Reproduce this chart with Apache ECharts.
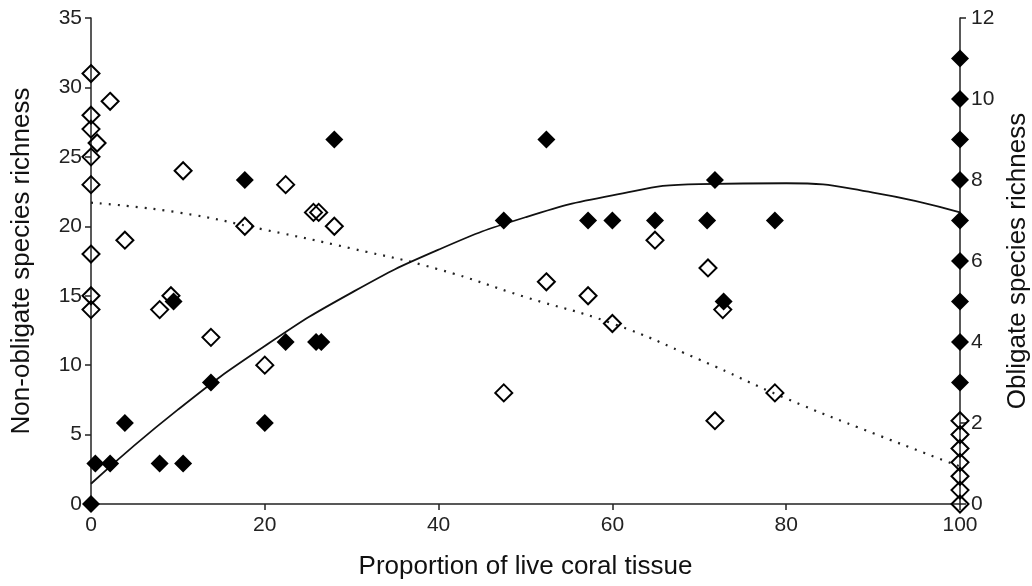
<!DOCTYPE html>
<html>
<head>
<meta charset="utf-8">
<script src="https://cdn.jsdelivr.net/npm/echarts@6/dist/echarts.min.js"></script>
<style>
  html, body { margin: 0; padding: 0; background: #fff; }
  #chart { width: 1032px; height: 586px; }
</style>
</head>
<body>
<div id="chart"></div>
<script>
// 非专性物种（空心菱形，左轴）
const openX = [0, 0, 0, 0, 0, 0, 0, 0, 0.7, 2.2, 3.9, 7.9, 9.2, 10.6, 13.8, 17.7, 20, 22.4, 25.6, 26.2, 28,
  47.5, 52.4, 57.2, 60, 64.9, 71, 71.8, 72.7, 78.7, 100, 100, 100, 100, 100, 100, 100];
const openY = [31, 28, 27, 25, 23, 18, 15, 14, 26, 29, 19, 14, 15, 24, 12, 20, 10, 23, 21, 21, 20,
  8, 16, 15, 13, 19, 17, 6, 14, 8, 6, 5, 4, 3, 2, 1, 0];

// 专性物种（实心菱形，右轴）
const filledX = [0, 0.5, 2.2, 3.9, 7.9, 10.6, 9.5, 13.8, 17.7, 20, 22.4, 25.9, 26.5, 28,
  47.5, 52.4, 57.2, 60, 64.9, 70.9, 71.8, 72.8, 78.7, 100, 100, 100, 100, 100, 100, 100, 100, 100];
const filledY = [0, 1, 1, 2, 1, 1, 5, 3, 8, 2, 4, 4, 4, 9,
  7, 9, 7, 7, 7, 7, 8, 5, 7, 11, 10, 9, 8, 7, 6, 5, 4, 3];

// 拟合曲线
const fitX = [0, 10, 20, 30, 40, 50, 60, 70, 80, 90, 100];
const fitObligate = [0.5, 2.33, 3.9, 5.22, 6.28, 7.08, 7.62, 7.9, 7.92, 7.69, 7.2];
const fitNonObligate = [21.7, 21.0, 19.75, 18.4, 16.9, 14.9, 13.0, 10.4, 7.6, 5.1, 2.7];

const xTicks = { min: 0, max: 100, interval: 20 };
const leftTicks = { min: 0, max: 35, interval: 5 };
const rightTicks = { min: 0, max: 12, interval: 2 };

const zip = (xs, ys) => xs.map((x, i) => [x, ys[i]]);

const font = 'Liberation Sans, Arial, sans-serif';
const axisColor = '#222';

const chart = echarts.init(document.getElementById('chart'));

chart.setOption({
  animation: false,
  backgroundColor: '#fff',
  grid: { left: 91, right: 72, top: 18, bottom: 82, containLabel: false, outerBoundsMode: 'none' },
  xAxis: {
    type: 'value',
    ...xTicks,
    name: 'Proportion of live coral tissue',
    nameLocation: 'middle',
    nameGap: 50,
    nameTextStyle: { fontFamily: font, fontSize: 26, color: '#111' },
    axisLine: { onZero: false, lineStyle: { color: axisColor, width: 1.5 } },
    axisTick: { show: true, length: 6, lineStyle: { color: axisColor, width: 1.5 } },
    axisLabel: { fontFamily: font, fontSize: 21, color: '#222', margin: 11 },
    splitLine: { show: false }
  },
  yAxis: [
    {
      type: 'value',
      ...leftTicks,
      position: 'left',
      name: 'Non-obligate species richness',
      nameLocation: 'middle',
      nameGap: 56,
      nameRotate: 90,
      nameTextStyle: { fontFamily: font, fontSize: 26, color: '#111' },
      axisLine: { show: true, lineStyle: { color: axisColor, width: 1.5 } },
      axisTick: { show: true, length: 6, lineStyle: { color: axisColor, width: 1.5 } },
      axisLabel: { fontFamily: font, fontSize: 21, color: '#222', margin: 9 },
      splitLine: { show: false }
    },
    {
      type: 'value',
      ...rightTicks,
      position: 'right',
      name: 'Obligate species richness',
      nameLocation: 'middle',
      nameGap: 45,
      nameRotate: 90,
      nameTextStyle: { fontFamily: font, fontSize: 26, color: '#111' },
      axisLine: { show: true, lineStyle: { color: axisColor, width: 1.5 } },
      axisTick: { show: true, length: 6, lineStyle: { color: axisColor, width: 1.5 } },
      axisLabel: { fontFamily: font, fontSize: 21, color: '#222', margin: 11 },
      splitLine: { show: false }
    }
  ],
  series: [
    {
      name: 'fitNonObligate',
      type: 'line',
      yAxisIndex: 0,
      data: zip(fitX, fitNonObligate),
      smooth: true,
      symbol: 'none',
      lineStyle: { color: '#222', width: 2.2, type: [2, 7] },
      z: 1
    },
    {
      name: 'fitObligate',
      type: 'line',
      yAxisIndex: 1,
      data: zip(fitX, fitObligate),
      smooth: true,
      symbol: 'none',
      lineStyle: { color: '#111', width: 1.8 },
      z: 1
    },
    {
      name: 'nonObligate',
      type: 'scatter',
      yAxisIndex: 0,
      data: zip(openX, openY),
      symbol: 'diamond',
      symbolSize: 17,
      itemStyle: { color: 'rgba(255,255,255,0)', borderColor: '#000', borderWidth: 2, opacity: 1 },
      z: 3
    },
    {
      name: 'obligate',
      type: 'scatter',
      yAxisIndex: 1,
      data: zip(filledX, filledY),
      symbol: 'diamond',
      symbolSize: 18,
      itemStyle: { color: '#000', opacity: 1 },
      z: 4
    }
  ]
});
</script>
</body>
</html>
